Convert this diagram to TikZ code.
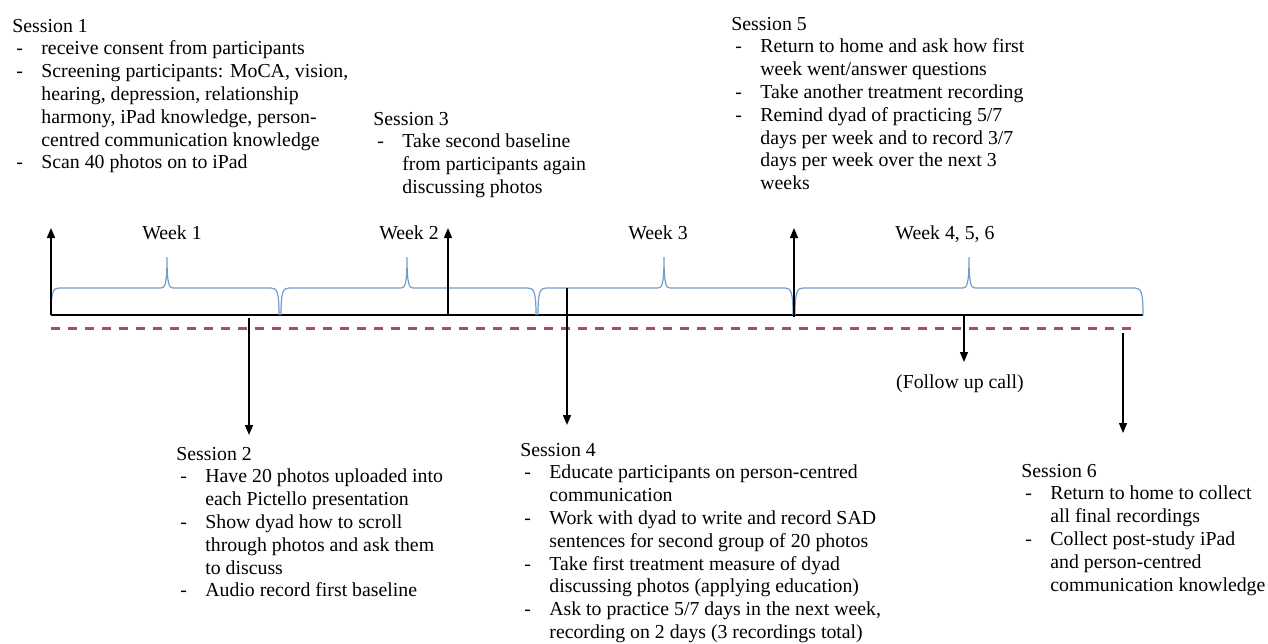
\documentclass[tikz,border=0pt]{standalone}
\usepackage{fontspec}
\setmainfont{Liberation Serif}
\usetikzlibrary{arrows.meta}
\definecolor{bracecol}{RGB}{112,158,204}
\definecolor{dashcol}{RGB}{172,78,88}
\newcommand{\bl}{\makebox[14.5pt][l]{\hspace*{2pt}-}}
\newcommand{\cn}{\hspace*{14.5pt}}
\tikzset{
  txt/.style={inner sep=0pt, anchor=base west, font=\fontsize{9.9}{11.4}\selectfont},
  wk/.style={inner sep=0pt, anchor=base, font=\fontsize{9.9}{11.4}\selectfont},
  arr/.style={line width=0.75pt, -{Triangle[length=5pt,width=4pt]}},
  brc/.style={draw=bracecol, line width=0.6pt},
}
\begin{document}
\begin{tikzpicture}[x=0.5pt,y=-0.5pt]
            \useasboundingbox (0,0) rectangle (1268,643);
            % time line
            \coordinate (L) at (51,315);
            \coordinate (R) at (1143,315);
            \draw[line width=0.75pt] (L) -- (R);
            \draw[dashcol, line width=1.5pt, dash pattern=on 4.5pt off 4pt] (51,328) -- (1135,328);
            % weeks
            \foreach \a/\t/\b in {51/167/279, 281/407/536, 538/664/793, 795/969/1143}
                \draw[brc] (\a,315) .. controls (\a,292) and (\a+2,288) .. (\a+8,288) -- (\t-6,288)
                    .. controls (\t-2,288) and (\t,284) .. (\t,257) .. controls (\t,284) and (\t+2,288) .. (\t+6,288)
                    -- (\b-8,288) .. controls (\b-2,288) and (\b,292) .. (\b,315);
            \node[wk] (wk1) at (172,239) {Week 1};
            \node[wk] (wk2) at (409,239) {Week 2};
            \node[wk] (wk3) at (658,239) {Week 3};
            \node[wk] (wk4) at (945,239) {Week 4, 5, 6};
            % sessions
            \coordinate (S1) at (51,315);
            \coordinate (S1t) at (51,228);
            \coordinate (S2) at (249,318);
            \coordinate (S2t) at (249,435);
            \coordinate (S3) at (448,315);
            \coordinate (S3t) at (448,228);
            \coordinate (S4) at (567,288);
            \coordinate (S4t) at (567,425);
            \coordinate (S5) at (794,317);
            \coordinate (S5t) at (794,228);
            \coordinate (F) at (964,315);
            \coordinate (Ft) at (964,362);
            \coordinate (S6) at (1123,333);
            \coordinate (S6t) at (1123,433);
            \draw[arr] (S1) -- (S1t);
            \draw[arr] (S2) -- (S2t);
            \draw[arr] (S3) -- (S3t);
            \draw[arr] (S4) -- (S4t);
            \draw[arr] (S5) -- (S5t);
            \draw[arr] (F) -- (Ft);
            \draw[arr] (S6) -- (S6t);
            \node[txt] (ses1) at (12,32) {\begin{tabular}[t]{@{}l@{}}
                Session 1\\
                \bl receive consent from participants\\
                \bl Screening participants: MoCA, vision,\\
                \cn hearing, depression, relationship\\
                \cn harmony, iPad knowledge, person-\\
                \cn centred communication knowledge\\
                \bl Scan 40 photos on to iPad
            \end{tabular}};
            \node[txt] (ses3) at (373,125) {\begin{tabular}[t]{@{}l@{}}
                Session 3\\
                \bl Take second baseline\\
                \cn from participants again\\
                \cn discussing photos
            \end{tabular}};
            \node[txt] (ses5) at (731,30) {\begin{tabular}[t]{@{}l@{}}
                Session 5\\
                \bl Return to home and ask how first\\
                \cn week went/answer questions\\
                \bl Take another treatment recording\\
                \bl Remind dyad of practicing 5/7\\
                \cn days per week and to record 3/7\\
                \cn days per week over the next 3\\
                \cn weeks
            \end{tabular}};
            \node[txt] (ses2) at (176,460) {\begin{tabular}[t]{@{}l@{}}
                Session 2\\
                \bl Have 20 photos uploaded into\\
                \cn each Pictello presentation\\
                \bl Show dyad how to scroll\\
                \cn through photos and ask them\\
                \cn to discuss\\
                \bl Audio record first baseline
            \end{tabular}};
            \node[txt] (ses4) at (520,456) {\begin{tabular}[t]{@{}l@{}}
                Session 4\\
                \bl Educate participants on person-centred\\
                \cn communication\\
                \bl Work with dyad to write and record SAD\\
                \cn sentences for second group of 20 photos\\
                \bl Take first treatment measure of dyad\\
                \cn discussing photos (applying education)\\
                \bl Ask to practice 5/7 days in the next week,\\
                \cn recording on 2 days (3 recordings total)
            \end{tabular}};
            \node[txt] (ses6) at (1021,477) {\begin{tabular}[t]{@{}l@{}}
                Session 6\\
                \bl Return to home to collect\\
                \cn all final recordings\\
                \bl Collect post-study iPad\\
                \cn and person-centred\\
                \cn communication knowledge
            \end{tabular}};
            \node[wk] (fup) at (960,388) {(Follow up call)};
        \end{tikzpicture}
\end{document}
